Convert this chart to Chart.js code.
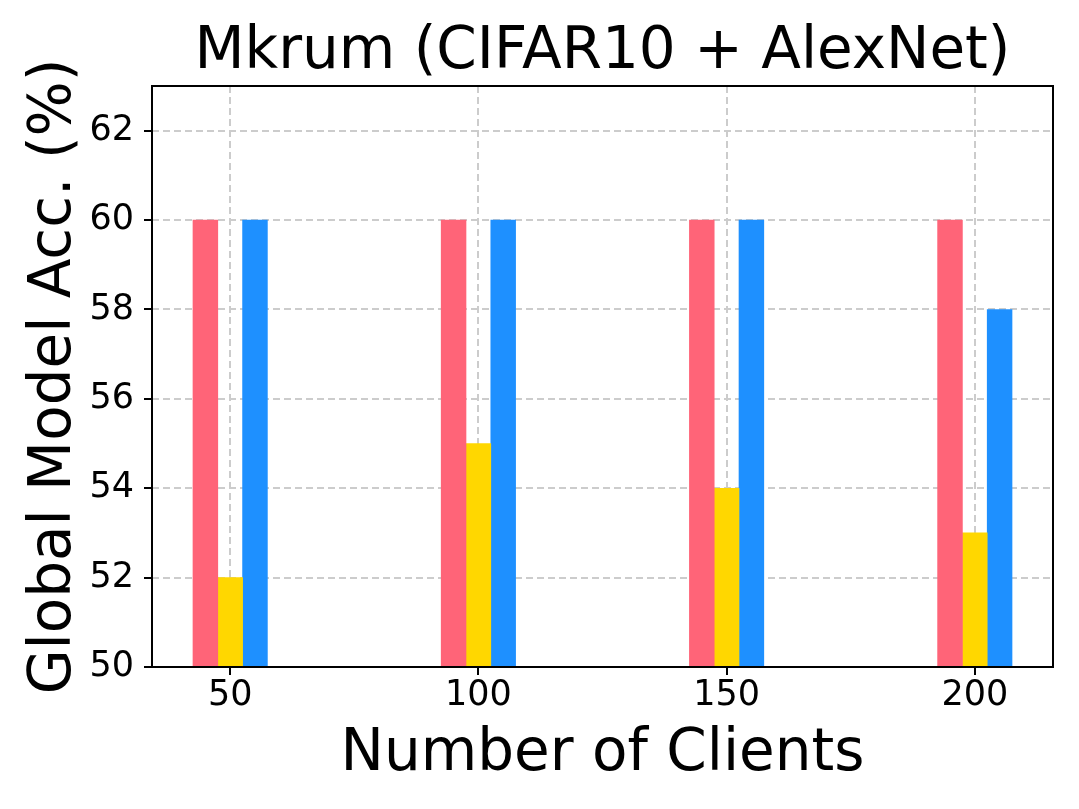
<!DOCTYPE html>
<html>
<head>
<meta charset="utf-8">
<script src="https://cdn.jsdelivr.net/npm/chart.js@4.4.0/dist/chart.umd.min.js"></script>
<style>
  html, body { margin: 0; padding: 0; background: #fff; }
  #wrap { width: 1079px; height: 809px; }
</style>
</head>
<body>
<div id="wrap"><canvas id="c" width="1079" height="809"></canvas></div>
<script>
const clients = [50, 100, 150, 200];
const seriesRed = [60, 60, 60, 60];
const seriesYellow = [52, 55, 54, 53];
const seriesBlue = [60, 60, 60, 58];
const yTicks = [50, 52, 54, 56, 58, 60, 62];

const font = "'DejaVu Sans', sans-serif";

function toPoints(values) {
  return clients.map((c, i) => ({ x: c, y: values[i] }));
}

// full box around the plot area, like matplotlib spines
const boxPlugin = {
  id: 'box',
  afterDraw(chart) {
    const { ctx, chartArea: a } = chart;
    ctx.save();
    ctx.strokeStyle = '#000';
    ctx.lineWidth = 2;
    ctx.strokeRect(a.left, a.top, a.right - a.left, a.bottom - a.top);
    ctx.restore();
  }
};

const grid = {
  color: '#cccccc',
  lineWidth: 2,
  offset: false,
  tickColor: '#000',
  tickWidth: 2,
  tickLength: 8,
  tickBorderDash: []
};

new Chart(document.getElementById('c'), {
  type: 'bar',
  data: {
    datasets: [
      { label: 'red', data: toPoints(seriesRed), backgroundColor: '#ff6478' },
      { label: 'yellow', data: toPoints(seriesYellow), backgroundColor: '#ffd700' },
      { label: 'blue', data: toPoints(seriesBlue), backgroundColor: '#1e90ff' }
    ]
  },
  plugins: [boxPlugin],
  options: {
    responsive: false,
    animation: false,
    layout: { padding: { right: 26, left: 0, top: 0, bottom: 0 } },
    datasets: { bar: { barThickness: 24.8 } },
    plugins: {
      legend: { display: false },
      tooltip: { enabled: false },
      title: {
        display: true,
        fullSize: false,
        text: 'Mkrum (CIFAR10 + AlexNet)',
        color: '#000',
        font: { family: font, size: 58, weight: 'normal', lineHeight: 1 },
        padding: { top: 24, bottom: 4 }
      }
    },
    scales: {
      x: {
        type: 'linear',
        offset: false,
        min: 34.25,
        max: 215.75,
        afterBuildTicks: axis => { axis.ticks = clients.map(v => ({ value: v })); },
        afterFit: axis => { axis.height = 142; },
        grid: grid,
        border: { display: false, dash: [7, 4] },
        ticks: {
          color: '#000',
          font: { family: font, size: 35 },
          padding: 0,
          maxRotation: 0
        },
        title: {
          display: true,
          text: 'Number of Clients',
          color: '#000',
          font: { family: font, size: 58 },
          padding: { bottom: 19 }
        }
      },
      y: {
        min: 50,
        max: 63,
        afterBuildTicks: axis => { axis.ticks = yTicks.map(v => ({ value: v })); },
        afterFit: axis => { axis.width = 152; },
        grid: grid,
        border: { display: false, dash: [7, 4] },
        ticks: {
          color: '#000',
          font: { family: font, size: 35 },
          padding: 10
        },
        title: {
          display: true,
          text: 'Global Model Acc. (%)',
          color: '#000',
          font: { family: font, size: 58 },
          padding: { top: 20 }
        }
      }
    }
  }
});
</script>
</body>
</html>
